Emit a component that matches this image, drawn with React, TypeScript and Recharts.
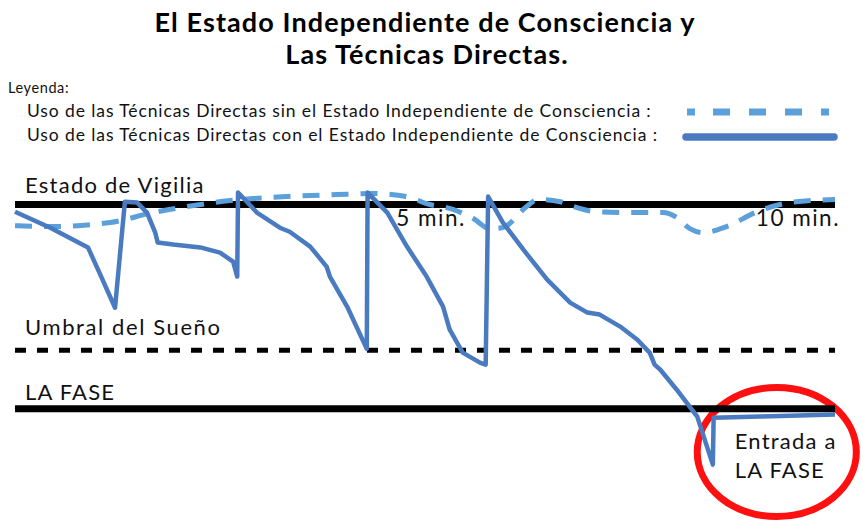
import React from "react";
import {
  LineChart,
  Line,
  XAxis,
  YAxis,
  ReferenceLine,
  ReferenceDot,
  ReferenceArea,
} from "recharts";

// levels of wakefulness (y) and minutes (x)
const VIGILIA = 100;
const UMBRAL = 49;
const FASE = 28.5;

const MINUTE_MARKS = [5, 10];

// with the independent state of consciousness (solid)
const conTime = [
  0, 0.43, 0.89, 1.04, 1.22, 1.34, 1.49, 1.61, 1.71, 1.74, 1.93, 2.26, 2.5,
  2.66, 2.71, 2.72, 2.95, 3.23, 3.35, 3.6, 3.8, 3.84, 4.05, 4.29, 4.3, 4.54,
  4.78, 5.02, 5.22, 5.3, 5.46, 5.67, 5.74, 5.77, 5.95, 6.2, 6.49, 6.77, 6.98,
  7.13, 7.38, 7.59, 7.74, 7.8, 7.87, 8.07, 8.32, 8.51, 8.52, 9.09, 10,
];
const conLevel = [
  97.5, 91.9, 85.0, 75.5, 63.9, 101.0, 100.7, 97.2, 90.2, 86.7, 86.0, 85.0,
  83.2, 80.0, 74.8, 104.2, 97.2, 91.9, 90.5, 85.3, 78.3, 74.8, 64.3, 49.5,
  104.2, 97.2, 85.3, 74.8, 64.3, 56.3, 48.2, 44.7, 44.0, 102.8, 93.7, 84.2,
  73.7, 65.7, 62.2, 61.5, 57.3, 52.7, 48.2, 44.0, 42.2, 35.2, 25.8, 9.0, 25.4,
  25.8, 26.5,
];

// without it (dashed)
const sinTime = [
  0, 0.43, 1.16, 1.68, 2.1, 2.62, 3.11, 3.93, 4.37, 4.78, 5.02, 5.34, 5.59,
  5.79, 5.94, 6.24, 6.37, 6.65, 6.77, 7.1, 7.54, 7.9, 8.07, 8.23, 8.39, 8.68,
  9.05, 9.45, 10,
];
const sinLevel = [
  92.6, 92.3, 93.7, 97.2, 99.3, 101.4, 102.5, 103.5, 103.9, 102.8, 100.3, 98.3,
  95.1, 91.6, 91.9, 99.3, 101.8, 101.0, 99.7, 97.5, 97.2, 97.2, 95.5, 91.6,
  90.2, 92.3, 97.5, 100.7, 101.8,
];

const conData = conTime.map((t, i) => ({ t, v: conLevel[i] }));
const sinData = sinTime.map((t, i) => ({ t, v: sinLevel[i] }));

const FONT = "Lato, 'Noto Sans', sans-serif";
const SOLID = "#4a7bc0";
const DASHED = "#5b9fdb";

const levelLabel = (text: string, dy: number, spacing: number) => (props: any) => {
  const { viewBox } = props;
  return (
    <text
      x={viewBox.x + 10}
      y={viewBox.y + dy}
      fontFamily={FONT}
      fontSize={22}
      letterSpacing={spacing}
      fill="#111"
    >
      {text}
    </text>
  );
};

export default function App() {
  return (
    <div
      style={{
        position: "fixed",
        top: 0,
        left: 0,
        width: 863,
        height: 523,
        background: "#fff",
      }}
    >
      <svg
        width={863}
        height={160}
        style={{ position: "absolute", top: 0, left: 0 }}
      >
        <text
          x={425}
          y={32}
          textAnchor="middle"
          fontFamily={FONT}
          fontWeight={700}
          fontSize={27}
          letterSpacing={1.1}
          fill="#000"
        >
          El Estado Independiente de Consciencia y
        </text>
        <text
          x={427}
          y={64}
          textAnchor="middle"
          fontFamily={FONT}
          fontWeight={700}
          fontSize={27}
          letterSpacing={1.1}
          fill="#000"
        >
          Las Técnicas Directas.
        </text>
        <text
          x={8}
          y={93}
          fontFamily={FONT}
          fontSize={14.5}
          letterSpacing={0.6}
          fill="#111"
        >
          Leyenda:
        </text>
        <text
          x={27}
          y={117}
          fontFamily={FONT}
          fontSize={17.5}
          letterSpacing={0.9}
          fill="#111"
        >
          Uso de las Técnicas Directas sin el Estado Independiente de
          Consciencia :
        </text>
        <text
          x={27}
          y={141}
          fontFamily={FONT}
          fontSize={17.5}
          letterSpacing={0.9}
          fill="#111"
        >
          Uso de las Técnicas Directas con el Estado Independiente de
          Consciencia :
        </text>
        <line
          x1={687}
          y1={112}
          x2={833}
          y2={112}
          stroke={DASHED}
          strokeWidth={7}
          strokeDasharray="8 18 17 19 17 19 17 19"
        />
        <line
          x1={686}
          y1={137}
          x2={834}
          y2={137}
          stroke={SOLID}
          strokeWidth={7.5}
          strokeLinecap="round"
        />
      </svg>
      <div style={{ position: "absolute", top: 0, left: 0 }}>
        <LineChart
          width={863}
          height={523}
          margin={{ top: 176, right: 28, bottom: 47, left: 15 }}
        >
          <XAxis dataKey="t" type="number" domain={[0, 10]} hide />
          <YAxis type="number" domain={[5, 110]} hide />
          <ReferenceLine
            y={VIGILIA}
            stroke="#000"
            strokeWidth={7}
            label={{ content: levelLabel("Estado de Vigilia", -12, 1.25) }}
          />
          <ReferenceLine
            y={UMBRAL}
            stroke="#000"
            strokeWidth={5}
            strokeDasharray="11 11"
            label={{ content: levelLabel("Umbral del Sueño", -15, 1.6) }}
          />
          <ReferenceLine
            y={FASE}
            stroke="#000"
            strokeWidth={7}
            label={{ content: levelLabel("LA FASE", -9, 1.2) }}
          />
          {MINUTE_MARKS.map((m) => (
            <ReferenceDot
              key={m}
              x={m}
              y={VIGILIA}
              r={0}
              shape={(p: any) => (
                <text
                  x={p.cx + (m === 10 ? 5 : 6)}
                  y={p.cy + 21}
                  textAnchor={m === 10 ? "end" : "middle"}
                  fontFamily={FONT}
                  fontSize={22.5}
                  letterSpacing={1.5}
                  fill="#111"
                >
                  {m} min.
                </text>
              )}
            />
          ))}
          <Line
            data={sinData}
            dataKey="v"
            type="monotone"
            stroke={DASHED}
            strokeWidth={5}
            strokeDasharray="17 12"
            dot={false}
            isAnimationActive={false}
          />
          <Line
            data={conData}
            dataKey="v"
            type="linear"
            stroke={SOLID}
            strokeWidth={4.5}
            strokeLinejoin="round"
            dot={false}
            isAnimationActive={false}
          />
          <ReferenceArea
            x1={8.32}
            x2={10.26}
            y1={36}
            y2={-9.2}
            ifOverflow="visible"
            shape={(p: any) => {
              const cx = p.x + p.width / 2;
              const cy = p.y + p.height / 2;
              return (
                <g>
                  <ellipse
                    cx={cx}
                    cy={cy}
                    rx={p.width / 2}
                    ry={p.height / 2}
                    fill="none"
                    stroke="#ff1010"
                    strokeWidth={7}
                  />
                  <text
                    x={cx - 42}
                    y={cy - 3}
                    fontFamily={FONT}
                    fontSize={22}
                    letterSpacing={1.2}
                    fill="#111"
                  >
                    Entrada a
                  </text>
                  <text
                    x={cx - 42}
                    y={cy + 26}
                    fontFamily={FONT}
                    fontSize={22}
                    letterSpacing={1.2}
                    fill="#111"
                  >
                    LA FASE
                  </text>
                </g>
              );
            }}
          />
        </LineChart>
      </div>
    </div>
  );
}
